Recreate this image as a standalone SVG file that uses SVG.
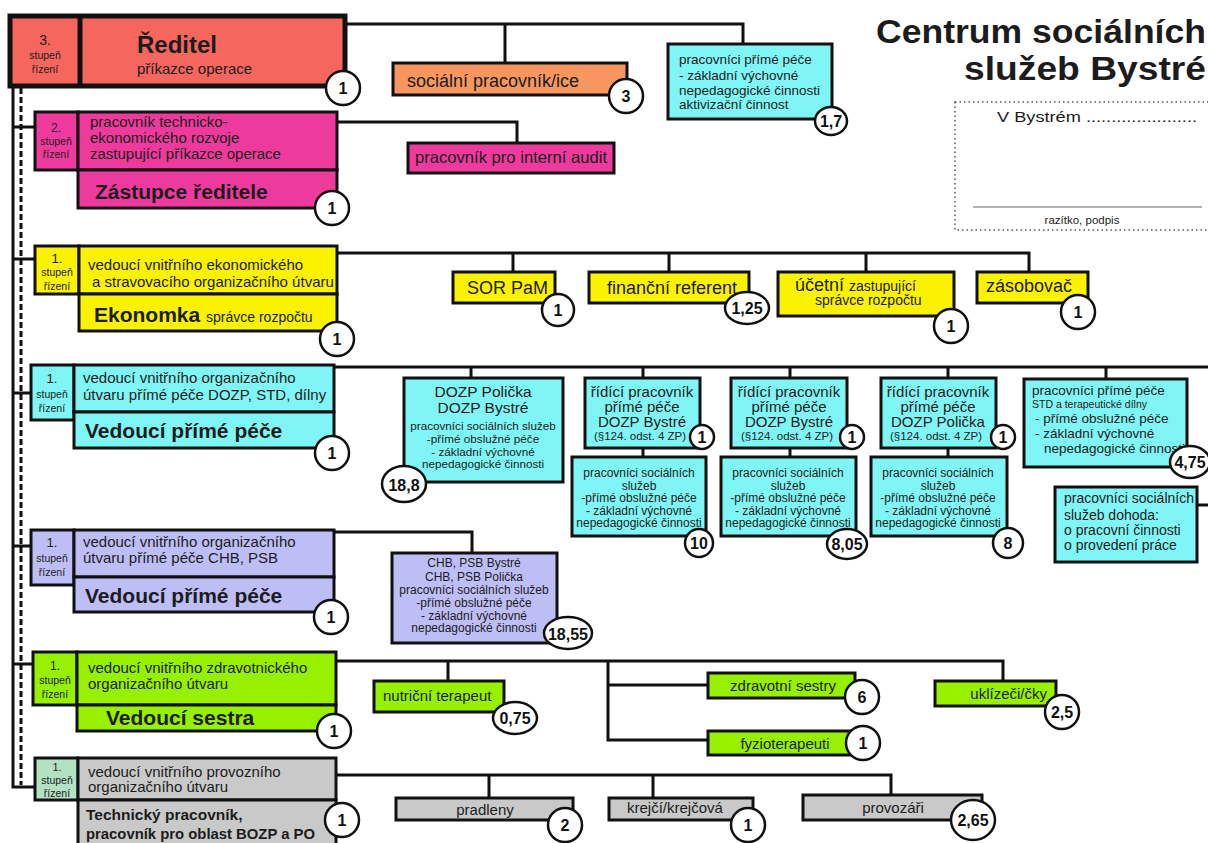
<svg xmlns="http://www.w3.org/2000/svg" width="1208" height="843" viewBox="0 0 1208 843">
<style>
text{font-family:"Liberation Sans",Arial,Helvetica,sans-serif;fill:#1c1c1c}
.bx{stroke:#111;stroke-width:3}
.ln{fill:none;stroke:#111;stroke-width:3}
.bd{fill:#fff;stroke:#111;stroke-width:2.5}
.n{font-weight:bold;text-anchor:middle;font-size:16px;fill:#111}
.m{text-anchor:middle}
.b{font-weight:bold}
.st{font-size:10.5px;text-anchor:middle}
.sal{fill:#F4665E}
.org{fill:#F7965E}
.mag{fill:#EE3A9D}
.yel{fill:#FAF200}
.cy{fill:#80F5F5}
.lav{fill:#BEBEF6}
.grn{fill:#96F000}
.gry{fill:#C9C9C9}
.mnt{fill:#B3E2C2}
</style>

<g id="connectors">
<path class="ln" d="M13,86 V787 H35"/>
<path class="ln" d="M21,88 V785" stroke-dasharray="6 3"/>
<path class="ln" d="M13,127 H35 M13,259 H35 M13,393 H31 M13,546 H31 M13,664 H33"/>
<path class="ln" d="M346,24 H743 V44 M505,24 V63"/>
<path class="ln" d="M337,122 H517 V143"/>
<path class="ln" d="M337,253 H1029 V272 M513,253 V272 M669,253 V272 M866,253 V272"/>
<path class="ln" d="M334,367 H1208 M471,367 V378 M643,367 V378 M790,367 V378 M948,367 V378 M1106,367 V379 M643,448 V457 M790,448 V457 M948,448 V457 M1197,505 H1208"/>
<path class="ln" d="M334,532 H472 V553"/>
<path class="ln" d="M336,661 H1003 V681 M448,661 V681 M608,661 V740 H708 M608,685 H708"/>
<path class="ln" d="M336,775 H891 V795 M489,775 V798 M653,775 V798"/>
</g>

<g id="title">
<text x="1206" y="43" font-size="33" font-weight="bold" text-anchor="end" textLength="330" lengthAdjust="spacingAndGlyphs" fill="#000">Centrum sociálních</text>
<text x="1206" y="80" font-size="33" font-weight="bold" text-anchor="end" textLength="242" lengthAdjust="spacingAndGlyphs" fill="#000">služeb Bystré</text>
</g>

<g id="stamp">
<rect x="955" y="102" width="262" height="128" fill="none" stroke="#555" stroke-width="1.5" stroke-dasharray="1.5 3"/>
<text x="997" y="122" font-size="14" textLength="200" lengthAdjust="spacingAndGlyphs">V Bystrém ......................</text>
<line x1="973" y1="207" x2="1202" y2="207" stroke="#666" stroke-width="1.2"/>
<text x="1082" y="224" font-size="11.5" class="m">razítko, podpis</text>
</g>

<g id="reditel">
<rect x="10" y="16" width="335" height="70" class="sal" stroke="#111" stroke-width="5"/>
<line x1="80" y1="16" x2="80" y2="86" stroke="#111" stroke-width="5"/>
<text x="45" y="45" font-size="14" class="m">3.</text>
<text x="45" y="59" class="st" font-size="11">stupeň</text>
<text x="45" y="73" class="st" font-size="11">řízení</text>
<text x="137" y="53" font-size="24" class="b">Ředitel</text>
<text x="137" y="74" font-size="15">příkazce operace</text>
<circle cx="343" cy="88" r="17" class="bd"/><text x="343" y="94" class="n">1</text>
</g>

<g id="socialni">
<rect x="393" y="63" width="234" height="32" class="bx org"/>
<text x="407" y="87" font-size="18">sociální pracovník/ice</text>
<circle cx="626" cy="96" r="17" class="bd"/><text x="626" y="102" class="n">3</text>
</g>

<g id="aktivizace">
<rect x="668" y="44" width="164" height="75" class="bx cy"/>
<text x="679" y="64" font-size="13.5">pracovníci přímé péče</text>
<text x="679" y="80" font-size="13.5"> - základní výchovné</text>
<text x="679" y="95" font-size="13.5">nepedagogické činnosti</text>
<text x="679" y="109" font-size="13.5">aktivizační činnost</text>
<ellipse cx="831" cy="121" rx="16" ry="14" class="bd"/><text x="831" y="127" class="n">1,7</text>
</g>

<g id="zastupce">
<rect x="35" y="112" width="43" height="58" class="bx mag"/>
<rect x="78" y="112" width="259" height="58" class="bx mag"/>
<rect x="78" y="170" width="259" height="38" class="bx mag"/>
<text x="56" y="132" font-size="12" class="m">2.</text>
<text x="56" y="145" class="st">stupeň</text>
<text x="56" y="158" class="st">řízení</text>
<text x="90" y="127" font-size="15">pracovník  technicko-</text>
<text x="90" y="143" font-size="15">ekonomického rozvoje</text>
<text x="90" y="159" font-size="15">zastupující příkazce operace</text>
<text x="95" y="199" font-size="21" class="b">Zástupce ředitele</text>
<circle cx="332" cy="208" r="17" class="bd"/><text x="332" y="214" class="n">1</text>
</g>

<g id="audit">
<rect x="408" y="143" width="206" height="30" class="bx mag"/>
<text x="415" y="163" font-size="16.5" textLength="192" lengthAdjust="spacingAndGlyphs">pracovník pro interní audit</text>
</g>

<g id="ekonomka">
<rect x="35" y="246" width="44" height="48" class="bx yel"/>
<rect x="79" y="246" width="258" height="48" class="bx yel"/>
<rect x="79" y="294" width="258" height="37" class="bx yel"/>
<text x="57" y="263" font-size="13" class="m">1.</text>
<text x="57" y="276" class="st">stupeň</text>
<text x="57" y="290" class="st">řízení</text>
<text x="88" y="270" font-size="15">vedoucí vnitřního ekonomického</text>
<text x="92" y="287" font-size="15">a stravovacího organizačního útvaru</text>
<text x="94" y="322" font-size="21" class="b">Ekonomka <tspan font-size="14" font-weight="normal">správce rozpočtu</tspan></text>
<circle cx="337" cy="339" r="17" class="bd"/><text x="337" y="345" class="n">1</text>
</g>

<g id="sor">
<rect x="453" y="272" width="102" height="31" class="bx yel"/>
<text x="467" y="294" font-size="18">SOR PaM</text>
<circle cx="558" cy="310" r="16" class="bd"/><text x="558" y="316" class="n">1</text>
</g>

<g id="financni">
<rect x="589" y="272" width="160" height="31" class="bx yel"/>
<text x="607" y="294" font-size="18">finanční referent</text>
<ellipse cx="747" cy="308" rx="22" ry="16" class="bd"/><text x="747" y="314" class="n">1,25</text>
</g>

<g id="ucetni">
<rect x="778" y="272" width="176" height="44" class="bx yel"/>
<text x="795" y="291" font-size="18">účetní <tspan font-size="14">zastupující</tspan></text>
<text x="815" y="305" font-size="14">správce rozpočtu</text>
<circle cx="951" cy="326" r="17" class="bd"/><text x="951" y="332" class="n">1</text>
</g>

<g id="zasobovac">
<rect x="977" y="272" width="111" height="31" class="bx yel"/>
<text x="986" y="292" font-size="18">zásobovač</text>
<circle cx="1078" cy="312" r="17" class="bd"/><text x="1078" y="318" class="n">1</text>
</g>

<g id="vedouci-dozp">
<rect x="31" y="365" width="43" height="55" class="bx cy"/>
<rect x="74" y="365" width="260" height="47" class="bx cy"/>
<rect x="74" y="412" width="260" height="36" class="bx cy"/>
<text x="52" y="383" font-size="13" class="m">1.</text>
<text x="52" y="398" class="st">stupeň</text>
<text x="52" y="412" class="st">řízení</text>
<text x="83" y="383" font-size="15">vedoucí vnitřního organizačního</text>
<text x="83" y="400" font-size="15">útvaru přímé péče DOZP, STD, dílny</text>
<text x="85" y="438" font-size="21" class="b">Vedoucí přímé péče</text>
<circle cx="332" cy="453" r="17" class="bd"/><text x="332" y="459" class="n">1</text>
</g>

<g id="dozp">
<rect x="404" y="378" width="159" height="104" class="bx cy"/>
<text x="483" y="397" font-size="15.5" class="m">DOZP Polička</text>
<text x="483" y="413" font-size="15.5" class="m">DOZP Bystré</text>
<text x="483" y="430" font-size="11.7" class="m">pracovníci sociálních služeb</text>
<text x="483" y="443" font-size="11.7" class="m">-přímé obslužné péče</text>
<text x="483" y="456" font-size="11.7" class="m">- základní výchovné</text>
<text x="483" y="468" font-size="11.7" class="m">nepedagogické činnosti</text>
<ellipse cx="404" cy="484" rx="22" ry="18" class="bd"/><text x="404" y="491" class="n" font-size="19">18,8</text>
</g>

<g id="ridici1">
<rect x="585" y="378" width="115" height="70" class="bx cy"/>
<text x="642" y="397" font-size="15" class="m">řídící pracovník</text>
<text x="642" y="412" font-size="15" class="m">přímé péče</text>
<text x="642" y="427" font-size="15" class="m">DOZP Bystré</text>
<text x="640" y="440" font-size="11.5" class="m">(§124. odst. 4 ZP)</text>
<circle cx="702" cy="437" r="12" class="bd"/><text x="702" y="443" class="n">1</text>
</g>

<g id="soc1">
<rect x="572" y="457" width="134" height="79" class="bx cy"/>
<text x="639" y="477" font-size="12" class="m">pracovníci sociálních</text>
<text x="639" y="490" font-size="12" class="m">služeb</text>
<text x="639" y="502" font-size="12" class="m">-přímé obslužné péče</text>
<text x="639" y="515" font-size="12" class="m">- základní výchovné</text>
<text x="639" y="527" font-size="12" class="m">nepedagogické činnosti</text>
<circle cx="699" cy="543" r="14" class="bd"/><text x="699" y="549" class="n">10</text>
</g>

<g id="ridici2">
<rect x="731" y="378" width="116" height="70" class="bx cy"/>
<text x="789" y="397" font-size="15" class="m">řídící pracovník</text>
<text x="789" y="412" font-size="15" class="m">přímé péče</text>
<text x="789" y="427" font-size="15" class="m">DOZP Bystré</text>
<text x="787" y="440" font-size="11.5" class="m">(§124. odst. 4 ZP)</text>
<circle cx="852" cy="437" r="12" class="bd"/><text x="852" y="443" class="n">1</text>
</g>

<g id="soc2">
<rect x="721" y="457" width="135" height="79" class="bx cy"/>
<text x="788" y="477" font-size="12" class="m">pracovníci sociálních</text>
<text x="788" y="490" font-size="12" class="m">služeb</text>
<text x="788" y="502" font-size="12" class="m">-přímé obslužné péče</text>
<text x="788" y="515" font-size="12" class="m">- základní výchovné</text>
<text x="788" y="527" font-size="12" class="m">nepedagogické činnosti</text>
<ellipse cx="847" cy="544" rx="20" ry="15" class="bd"/><text x="847" y="550" class="n">8,05</text>
</g>

<g id="ridici3">
<rect x="881" y="378" width="115" height="70" class="bx cy"/>
<text x="938" y="397" font-size="15" class="m">řídící pracovník</text>
<text x="938" y="412" font-size="15" class="m">přímé péče</text>
<text x="938" y="427" font-size="15" class="m">DOZP Polička</text>
<text x="936" y="440" font-size="11.5" class="m">(§124. odst. 4 ZP)</text>
<circle cx="1003" cy="437" r="12" class="bd"/><text x="1003" y="443" class="n">1</text>
</g>

<g id="soc3">
<rect x="871" y="457" width="136" height="79" class="bx cy"/>
<text x="938" y="477" font-size="12" class="m">pracovníci sociálních</text>
<text x="938" y="490" font-size="12" class="m">služeb</text>
<text x="938" y="502" font-size="12" class="m">-přímé obslužné péče</text>
<text x="938" y="515" font-size="12" class="m">- základní výchovné</text>
<text x="938" y="527" font-size="12" class="m">nepedagogické činnosti</text>
<circle cx="1008" cy="543" r="15" class="bd"/><text x="1008" y="549" class="n">8</text>
</g>

<g id="std">
<rect x="1024" y="379" width="163" height="88" class="bx cy"/>
<text x="1032" y="395" font-size="13.5">pracovníci přímé péče</text>
<text x="1032" y="408" font-size="10.5">STD a terapeutické dílny</text>
<text x="1035" y="423" font-size="13.5">- přímé obslužné péče</text>
<text x="1035" y="438" font-size="13.5">- základní výchovné</text>
<text x="1044" y="453" font-size="13.5">nepedagogické činnosti</text>
<ellipse cx="1190" cy="462" rx="20" ry="16" class="bd"/><text x="1190" y="468" class="n">4,75</text>
</g>

<g id="dohoda">
<rect x="1055" y="487" width="142" height="75" class="bx cy"/>
<text x="1064" y="503" font-size="14">pracovníci sociálních</text>
<text x="1064" y="520" font-size="14">služeb dohoda:</text>
<text x="1064" y="535" font-size="14">o pracovní činnosti</text>
<text x="1064" y="550" font-size="14">o provedení práce</text>
</g>

<g id="vedouci-chb">
<rect x="31" y="530" width="43" height="55" class="bx lav"/>
<rect x="74" y="530" width="260" height="47" class="bx lav"/>
<rect x="74" y="577" width="260" height="35" class="bx lav"/>
<text x="52" y="547" font-size="13" class="m">1.</text>
<text x="52" y="562" class="st">stupeň</text>
<text x="52" y="576" class="st">řízení</text>
<text x="83" y="547" font-size="15">vedoucí vnitřního organizačního</text>
<text x="83" y="563" font-size="15">útvaru přímé péče  CHB, PSB</text>
<text x="85" y="603" font-size="21" class="b">Vedoucí přímé péče</text>
<circle cx="331" cy="617" r="17" class="bd"/><text x="331" y="623" class="n">1</text>
</g>

<g id="chb">
<rect x="392" y="553" width="165" height="90" class="bx lav"/>
<text x="474" y="567" font-size="12" class="m">CHB, PSB Bystré</text>
<text x="474" y="581" font-size="12" class="m">CHB, PSB Polička</text>
<text x="474" y="594" font-size="12" class="m">pracovníci sociálních služeb</text>
<text x="474" y="607" font-size="12" class="m">-přímé obslužné péče</text>
<text x="474" y="620" font-size="12" class="m">- základní výchovné</text>
<text x="474" y="632" font-size="12" class="m">nepedagogické činnosti</text>
<ellipse cx="568" cy="633" rx="24" ry="16" class="bd"/><text x="568" y="640" class="n" font-size="17">18,55</text>
</g>

<g id="sestra">
<rect x="33" y="652" width="44" height="53" class="bx grn"/>
<rect x="77" y="652" width="259" height="53" class="bx grn"/>
<rect x="77" y="705" width="259" height="26" class="bx grn"/>
<text x="55" y="670" font-size="12" class="m">1.</text>
<text x="55" y="684" class="st">stupeň</text>
<text x="55" y="698" class="st">řízení</text>
<text x="88" y="673" font-size="15">vedoucí vnitřního zdravotnického</text>
<text x="88" y="689" font-size="15">organizačního útvaru</text>
<text x="106" y="725" font-size="21" class="b">Vedoucí sestra</text>
<circle cx="334" cy="731" r="17" class="bd"/><text x="334" y="737" class="n">1</text>
</g>

<g id="nutricni">
<rect x="374" y="681" width="130" height="31" class="bx grn"/>
<text x="383" y="701" font-size="15">nutriční terapeut</text>
<ellipse cx="515" cy="718" rx="22" ry="16" class="bd"/><text x="515" y="724" class="n">0,75</text>
</g>

<g id="zdravotni">
<rect x="708" y="673" width="147" height="25" class="bx grn"/>
<text x="783" y="691" font-size="15" class="m">zdravotní sestry</text>
<circle cx="862" cy="697" r="17" class="bd"/><text x="862" y="703" class="n">6</text>
</g>

<g id="fyzio">
<rect x="708" y="731" width="147" height="24" class="bx grn"/>
<text x="785" y="749" font-size="15" class="m">fyzioterapeuti</text>
<circle cx="863" cy="743" r="17" class="bd"/><text x="863" y="749" class="n">1</text>
</g>

<g id="uklizeci">
<rect x="935" y="681" width="121" height="25" class="bx grn"/>
<text x="1047" y="699" font-size="15" text-anchor="end">uklízeči/čky</text>
<circle cx="1062" cy="712" r="17" class="bd"/><text x="1062" y="718" class="n">2,5</text>
</g>

<g id="technicky">
<rect x="35" y="758" width="43" height="42" class="bx mnt"/>
<rect x="78" y="758" width="258" height="42" class="bx gry"/>
<rect x="78" y="800" width="258" height="50" class="bx gry"/>
<text x="57" y="771" font-size="11" class="m" fill="#2f4f3a">1.</text>
<text x="57" y="784" class="st" fill="#2f4f3a">stupeň</text>
<text x="57" y="797" class="st" fill="#2f4f3a">řízení</text>
<text x="88" y="777" font-size="15" fill="#333">vedoucí vnitřního provozního</text>
<text x="88" y="792" font-size="15" fill="#333">organizačního útvaru</text>
<text x="86" y="820" font-size="15.5" class="b">Technický pracovník,</text>
<text x="86" y="839" font-size="15" class="b" textLength="229" lengthAdjust="spacingAndGlyphs">pracovník pro oblast BOZP a PO</text>
<circle cx="342" cy="820" r="17" class="bd"/><text x="342" y="826" class="n">1</text>
</g>

<g id="pradleny">
<rect x="396" y="798" width="177" height="22" class="bx gry"/>
<text x="485" y="815" font-size="15" class="m" fill="#333">pradleny</text>
<circle cx="565" cy="825" r="17" class="bd"/><text x="565" y="831" class="n">2</text>
</g>

<g id="krejci">
<rect x="609" y="798" width="144" height="22" class="bx gry"/>
<text x="627" y="813" font-size="15" fill="#333">krejčí/krejčová</text>
<circle cx="748" cy="825" r="17" class="bd"/><text x="748" y="831" class="n">1</text>
</g>

<g id="provozari">
<rect x="803" y="795" width="179" height="25" class="bx gry"/>
<text x="893" y="813" font-size="15" class="m" fill="#333">provozáři</text>
<ellipse cx="973" cy="820" rx="22" ry="20" class="bd"/><text x="973" y="826" class="n" font-size="17">2,65</text>
</g>
</svg>
